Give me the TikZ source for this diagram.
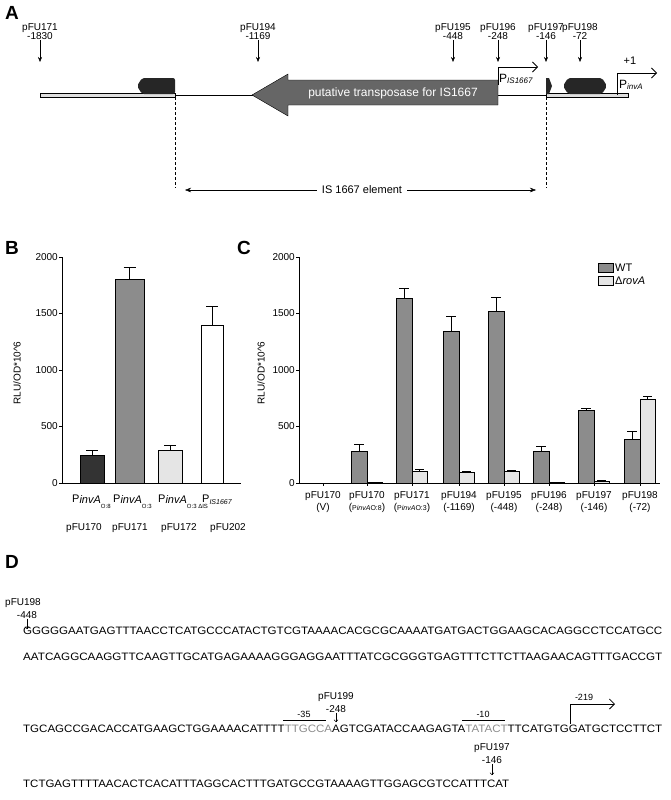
\documentclass[tikz,border=0pt]{standalone}
\usepackage{fontspec}
\setmainfont{Liberation Sans}
\usetikzlibrary{arrows.meta}
\begin{document}
\begin{tikzpicture}[x=1pt,y=-1pt,font=\fontsize{10}{11}\selectfont,
  lbl/.style={inner sep=0,align=center},
  dn/.style={-{Stealth[length=5pt,width=4pt]},thin},
  panel/.style={font=\fontsize{19}{20}\selectfont\bfseries,inner sep=0},
  bar/.style={draw,line width=0.9pt},
  seq/.style={anchor=base west,inner sep=0}]
\useasboundingbox (0,0) rectangle (671,800);
% ---------- Panel A ----------
\node[panel] (pA) at (12,13) {A};
\fill[gray!25] (40,93) rectangle (175,97);
\draw[thin] (40,93) rectangle (175,97);
\fill[gray!25] (546,93) rectangle (628,97);
\draw[thin] (546,93) rectangle (628,97);
\draw[thick] (175,95) -- (546,95);
\fill[black!85,rounded corners=2] (175,78) -- (142,78) -- (137,86) -- (142,94) -- (175,94) -- cycle;
\fill[black!85,rounded corners=2] (568,78) -- (602,78) -- (607,86) -- (602,94) -- (568,94) -- (563,86) -- cycle;
\fill[black!85] (546,78) -- (549,78) -- (552,86) -- (549,94) -- (546,94) -- cycle;
\filldraw[fill=black!60,draw=black] (498,80) -- (288,80) -- (288,74) -- (252,95) -- (288,116) -- (288,105) -- (498,105) -- cycle;
\node[lbl,text=white,font=\fontsize{12}{13}\selectfont] (tp) at (393,93) {putative transposase for IS1667};
\foreach \n/\x/\a/\b in {c171/40/pFU171/-1830,c194/258/pFU194/-1169,c195/453/pFU195/-448,c196/498/pFU196/-248,c197/546/pFU197/-146,c198/580/pFU198/-72}{
  \node[lbl] (\n) at (\x,32) {\a\\[-2pt]\b};
  \coordinate (\n e) at (\x,62);
  \draw[dn] (\n) -- (\n e);
}
\coordinate (pis0) at (498,85); \coordinate (pis1) at (498,67); \coordinate (pis2) at (538,67);
\draw[thick,-{Straight Barb[length=5pt]}] (pis0) -- (pis1) -- (pis2);
\node[lbl,anchor=west] (pisl) at (499,79) {\fontsize{12}{12}\selectfont P\raisebox{-1pt}{\fontsize{8}{8}\selectfont\itshape IS1667}};
\coordinate (pin0) at (617,95); \coordinate (pin1) at (617,73); \coordinate (pin2) at (657,73);
\draw[thick,-{Straight Barb[length=5pt]}] (pin0) -- (pin1) -- (pin2);
\node[lbl] (plus) at (630,61) {\fontsize{11}{11}\selectfont +1};
\node[lbl,anchor=west] (pinl) at (619,85) {\fontsize{12}{12}\selectfont P\raisebox{-1pt}{\fontsize{8}{8}\selectfont\itshape invA}};
\draw[densely dashed,thin] (175,97) -- (175,188);
\draw[densely dashed,thin] (546,97) -- (546,188);
\node[lbl,fill=white,inner xsep=5pt] (isl) at (362,190) {\fontsize{11}{11}\selectfont IS 1667 element};
\coordinate (isa) at (185,190); \coordinate (isb) at (536,190);
\draw[-{Stealth[length=6pt]}] (isl) -- (isa);
\draw[-{Stealth[length=6pt]}] (isl) -- (isb);
% ---------- Panel B ----------
\node[panel] (pB) at (12,248) {B};
\draw[line width=0.9pt] (62,257) -- (62,483) -- (241,483);
\foreach \v in {0,500,1000,1500,2000}{
  \draw (59,483-0.113*\v) -- (62,483-0.113*\v);
  \node[lbl,anchor=east] at (58,483-0.113*\v) {\v};
}
\node[lbl,rotate=90] (ylb) at (17,373) {RLU/OD*10\^{}6};
\foreach \xa/\xb/\v/\e/\c in {80/104/245/285/black!80,115/144/1800/1905/black!45,158/182/290/330/black!10,201/223/1390/1560/white}{
  \draw[line width=0.9pt] ({(\xa+\xb)/2},{483-0.113*\v}) -- ({(\xa+\xb)/2},{483-0.113*\e});
  \draw[line width=0.9pt] ({(\xa+\xb)/2-6},{483-0.113*\e}) -- ({(\xa+\xb)/2+6},{483-0.113*\e});
  \filldraw[bar,fill=\c] (\xa,483) rectangle (\xb,{483-0.113*\v});
}
\node[lbl,anchor=base west] at (72,502) {\fontsize{11}{11}\selectfont P\raisebox{-1pt}{\itshape invA}\raisebox{-6pt}{\fontsize{6}{6}\selectfont O:8}};
\node[lbl,anchor=base west] at (113,502) {\fontsize{11}{11}\selectfont P\raisebox{-1pt}{\itshape invA}\raisebox{-6pt}{\fontsize{6}{6}\selectfont O:3}};
\node[lbl,anchor=base west] at (158,502) {\fontsize{11}{11}\selectfont P\raisebox{-1pt}{\itshape invA}\raisebox{-6pt}{\fontsize{6}{6}\selectfont O:3 ΔIS}};
\node[lbl,anchor=base west] at (202,502) {\fontsize{11}{11}\selectfont P\raisebox{-2pt}{\fontsize{7}{7}\selectfont\itshape IS1667}};
\foreach \x/\t in {84/pFU170,130/pFU171,179/pFU172,228/pFU202}{\node[lbl] at (\x,528) {\t};}
% ---------- Panel C ----------
\node[panel] (pC) at (244,248) {C};
\draw[line width=0.9pt] (299,257) -- (299,483) -- (660,483);
\foreach \v in {0,500,1000,1500,2000}{
  \draw (296,483-0.113*\v) -- (299,483-0.113*\v);
  \node[lbl,anchor=east] at (295,483-0.113*\v) {\v};
}
\node[lbl,rotate=90] (ylc) at (261,373) {RLU/OD*10\^{}6};
\foreach \c/\w/\we/\r/\re/\la/\lb in {
 323/0/0/0/0/pFU170/(V),
 367/280/340/5/5/pFU170/({\fontsize{7}{7}\selectfont P\textit{invA}O:8}),
 412/1630/1720/100/120/pFU171/({\fontsize{7}{7}\selectfont P\textit{invA}O:3}),
 459/1340/1470/90/100/pFU194/(-1169),
 504/1520/1640/100/115/pFU195/(-448),
 549/280/320/5/8/pFU196/(-248),
 594/645/660/15/20/pFU197/(-146),
 640/385/460/740/770/pFU198/(-72)}{
  \draw (\c,483) -- (\c,486);
  \ifnum\w>0
  \draw[line width=0.9pt] (\c-8,{483-0.113*\w}) -- (\c-8,{483-0.113*\we}) (\c-13,{483-0.113*\we}) -- (\c-3,{483-0.113*\we});
  \filldraw[bar,fill=black!45] (\c-16,483) rectangle (\c,{483-0.113*\w});
  \fi
  \ifnum\r>0
  \draw[line width=0.9pt] (\c+7.5,{483-0.113*\r}) -- (\c+7.5,{483-0.113*\re}) (\c+3,{483-0.113*\re}) -- (\c+12,{483-0.113*\re});
  \filldraw[bar,fill=black!10] (\c,483) rectangle (\c+15,{483-0.113*\r});
  \fi
  \node[lbl] at (\c,496) {\la};
  \node[lbl] at (\c,508) {\lb};
}
\filldraw[bar,fill=black!45] (598,263) rectangle (613,272);
\node[lbl,anchor=west] (lwt) at (615,267.5) {\fontsize{11}{11}\selectfont WT};
\filldraw[bar,fill=black!10] (598,276) rectangle (613,285);
\node[lbl,anchor=west] (lrv) at (615,280.5) {\fontsize{11}{11}\selectfont Δ\textit{rovA}};
% ---------- Panel D ----------
\node[panel] (pD) at (12,562) {D};
\node[lbl] (d198) at (23,603) {pFU198};
\node[lbl] (d448) at (27,615) {-448};
\coordinate (d448e) at (27,629);
\draw[-{Straight Barb[length=2pt]},thin] (d448) -- (d448e);
\node[seq] (r1) at (23,634) {\resizebox{639pt}{7.5pt}{GGGGGAATGAGTTTAACCTCATGCCCATACTGTCGTAAAACACGCGCAAAATGATGACTGGAAGCACAGGCCTCCATGCC}};
\node[seq] (r2) at (23,660) {\resizebox{639pt}{7.5pt}{AATCAGGCAAGGTTCAAGTTGCATGAGAAAAGGGAGGAATTTATCGCGGGTGAGTTTCTTCTTAAGAACAGTTTGACCGT}};
\node[seq] (r3) at (23,732) {\resizebox{639pt}{7.5pt}{TGCAGCCGACACCATGAAGCTGGAAAACATTTT\textcolor{black!45}{TTGCCA}AGTCGATACCAAGAGTA\textcolor{black!45}{TATACT}TTCATGTGGATGCTCCTTCT}};
\node[seq] (r4) at (23,787) {\resizebox{486pt}{7.5pt}{TCTGAGTTTTAACACTCACATTTAGGCACTTTGATGCCGTAAAAGTTGGAGCGTCCATTTCAT}};
\node[lbl] (d199) at (336,697) {pFU199};
\node[lbl] (d248) at (336,709) {-248};
\coordinate (d248e) at (336,722);
\draw[-{Straight Barb[length=2pt]},thin] (d248) -- (d248e);
\draw[thin] (283,720) -- (326,720);
\node[lbl] (m35) at (304,714) {\fontsize{9}{9}\selectfont -35};
\draw[thin] (462,720) -- (505,720);
\node[lbl] (m10) at (483,714) {\fontsize{9}{9}\selectfont -10};
\coordinate (t0) at (570,724); \coordinate (t1) at (570,704); \coordinate (t2) at (615,704);
\draw[thick,-{Straight Barb[length=5pt]}] (t0) -- (t1) -- (t2);
\node[lbl] (m219) at (584,697) {\fontsize{9}{9}\selectfont -219};
\node[lbl] (d197) at (492,748) {pFU197};
\node[lbl] (d146) at (492,760) {-146};
\coordinate (d146e) at (492,775);
\draw[-{Straight Barb[length=2pt]},thin] (d146) -- (d146e);
\end{tikzpicture}
\end{document}
